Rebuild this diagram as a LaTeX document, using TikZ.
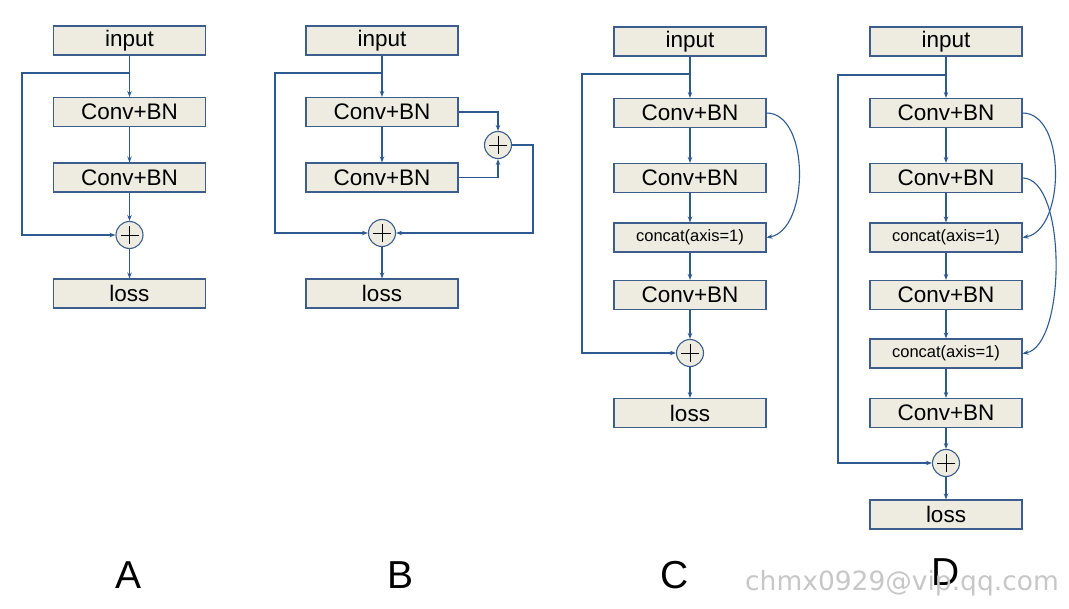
\documentclass[tikz,border=0pt]{standalone}
\usepackage{fontspec}
\setmainfont{Liberation Sans}
\newfontfamily\markfont{DejaVu Sans}
\usetikzlibrary{arrows.meta,calc,positioning}

\definecolor{boxfill}{HTML}{EEECE1}
\definecolor{boxline}{HTML}{3B5E8C}
\definecolor{wirecol}{HTML}{2E5A92}

\begin{document}
\begin{tikzpicture}[x=1pt,y=-1pt,
    block/.style={draw=boxline,fill=boxfill,line width=1.1pt,minimum width=152pt,minimum height=29pt,
        inner sep=0pt,font=\fontsize{22.5}{26}\selectfont},
    catblock/.style={block,font=\fontsize{16.5}{20}\selectfont},
    sum/.style={circle,draw=boxline,fill=boxfill,line width=1.1pt,minimum size=27pt,inner sep=0pt,
        path picture={\draw[black,line width=0.9pt]
            ($(path picture bounding box.center)+(-9pt,0)$) -- ++(18pt,0)
            ($(path picture bounding box.center)+(0,-9pt)$) -- ++(0,18pt);}},
    wire/.style={draw=wirecol,line width=1.1pt},
    arr/.style={wire,-{Stealth[length=6pt,width=4.5pt]}},
    caption/.style={font=\fontsize{39}{44}\selectfont},
    every node/.style={text=black}]
\useasboundingbox (0,0) rectangle (1069,609);

% A
\node[block] (ainput) at (129.5,40.5) {input};
\node[block] (aconv1) at (129.5,112) {Conv+BN};
\node[block] (aconv2) at (129.5,177.5) {Conv+BN};
\node[sum] (aplus) at (129.5,235) {};
\node[block] (aloss) at (129.5,293.5) {loss};
\coordinate (askip) at (129.5,73);
\coordinate (aleft) at (22,73);
\draw[arr] (ainput) -- (aconv1);
\draw[arr] (aconv1) -- (aconv2);
\draw[arr] (aconv2) -- (aplus);
\draw[arr] (aplus) -- (aloss);
\draw[arr] (askip) -- (aleft) |- (aplus);
\node[caption] (alabel) at (129,575) {A};

% B
\node[block] (binput) at (382,40.5) {input};
\node[block] (bconv1) at (382,112) {Conv+BN};
\node[block] (bconv2) at (382,177.5) {Conv+BN};
\node[sum] (bsum) at (498,145) {};
\node[sum] (bplus) at (382,233) {};
\node[block] (bloss) at (382,293.5) {loss};
\coordinate (bskip) at (382,73);
\coordinate (bleft) at (275,73);
\coordinate (bcorner) at (533,233);
\draw[arr] (binput) -- (bconv1);
\draw[arr] (bconv1) -- (bconv2);
\draw[arr] (bconv1) -| (bsum);
\draw[arr] (bconv2) -| (bsum);
\draw[arr] (bsum) -| (bcorner) -- (bplus);
\draw[arr] (bplus) -- (bloss);
\draw[arr] (bskip) -- (bleft) |- (bplus);
\node[caption] (blabel) at (401,575) {B};

% C
\node[block] (cinput) at (690,41.5) {input};
\node[block] (cconv1) at (690,113) {Conv+BN};
\node[block] (cconv2) at (690,178) {Conv+BN};
\node[catblock] (ccat) at (690,237.5) {concat(axis=1)};
\node[block] (cconv3) at (690,295) {Conv+BN};
\node[sum] (cplus) at (690,353) {};
\node[block] (closs) at (690,413) {loss};
\coordinate (cskip) at (690,74);
\coordinate (cleft) at (582,74);
\draw[arr] (cinput) -- (cconv1);
\draw[arr] (cconv1) -- (cconv2);
\draw[arr] (cconv2) -- (ccat);
\draw[arr] (ccat) -- (cconv3);
\draw[arr] (cconv3) -- (cplus);
\draw[arr] (cplus) -- (closs);
\draw[arr] (cskip) -- (cleft) |- (cplus);
\draw[arr] (cconv1.east) to[out=0,in=10,looseness=0.9] (ccat.east);
\node[caption] (clabel) at (675,575) {C};

% D
\node[block] (dinput) at (946,41.5) {input};
\node[block] (dconv1) at (946,113) {Conv+BN};
\node[block] (dconv2) at (946,178) {Conv+BN};
\node[catblock] (dcat1) at (946,237.5) {concat(axis=1)};
\node[block] (dconv3) at (946,295) {Conv+BN};
\node[catblock] (dcat2) at (946,353.5) {concat(axis=1)};
\node[block] (dconv4) at (946,413) {Conv+BN};
\node[sum] (dplus) at (946,463) {};
\node[block] (dloss) at (946,514.5) {loss};
\coordinate (dskip) at (946,75);
\coordinate (dleft) at (838,75);
\draw[arr] (dinput) -- (dconv1);
\draw[arr] (dconv1) -- (dconv2);
\draw[arr] (dconv2) -- (dcat1);
\draw[arr] (dcat1) -- (dconv3);
\draw[arr] (dconv3) -- (dcat2);
\draw[arr] (dcat2) -- (dconv4);
\draw[arr] (dconv4) -- (dplus);
\draw[arr] (dplus) -- (dloss);
\draw[arr] (dskip) -- (dleft) |- (dplus);
\draw[arr] (dconv1.east) to[out=0,in=10,looseness=0.9] (dcat1.east);
\draw[arr] (dconv2.east) to[out=0,in=10,looseness=0.65] (dcat2.east);
\node[caption] (dlabel) at (946,572) {D};

% watermark
\node[font=\markfont\fontsize{26.5}{30}\selectfont,text=black!22] (mark) at (902,583) {chmx0929@vip.qq.com};
\end{tikzpicture}
\end{document}
